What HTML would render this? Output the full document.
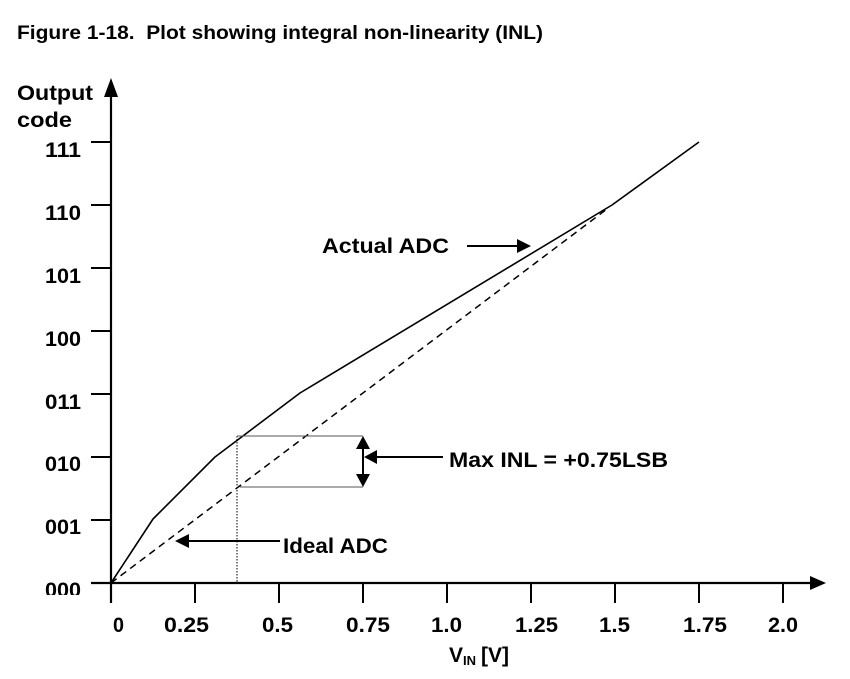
<!DOCTYPE html>
<html><head><meta charset="utf-8"><style>
html,body{margin:0;padding:0;background:#fff;}
svg{display:block;}
text{font-family:"Liberation Sans",Arial,sans-serif;font-weight:bold;fill:#000;white-space:pre;}
</style></head><body>
<svg width="850" height="679" viewBox="0 0 850 679" xmlns="http://www.w3.org/2000/svg">
<rect width="850" height="679" fill="#fff"/>
<!-- title -->
<text x="17" y="39" font-size="19" textLength="526" lengthAdjust="spacingAndGlyphs" xml:space="preserve">Figure 1-18.  Plot showing integral non-linearity (INL)</text>
<!-- y label -->
<text x="17" y="100" font-size="21" textLength="76" lengthAdjust="spacingAndGlyphs">Output</text>
<text x="17" y="127" font-size="21" textLength="55" lengthAdjust="spacingAndGlyphs">code</text>
<!-- axes -->
<line x1="111" y1="92" x2="111" y2="603" stroke="#000" stroke-width="2.2"/>
<polygon points="111,78 104,97 118,97" fill="#000"/>
<line x1="91" y1="583" x2="812" y2="583" stroke="#000" stroke-width="2.2"/>
<polygon points="826,583 810,576 810,590" fill="#000"/>
<!-- y ticks -->
<g stroke="#000" stroke-width="2">
<line x1="91" y1="142" x2="111" y2="142"/>
<line x1="91" y1="205" x2="111" y2="205"/>
<line x1="91" y1="268" x2="111" y2="268"/>
<line x1="91" y1="331" x2="111" y2="331"/>
<line x1="91" y1="394" x2="111" y2="394"/>
<line x1="91" y1="457" x2="111" y2="457"/>
<line x1="91" y1="520" x2="111" y2="520"/>
</g>
<!-- x ticks -->
<g stroke="#000" stroke-width="2">
<line x1="195" y1="583" x2="195" y2="603"/>
<line x1="279" y1="583" x2="279" y2="603"/>
<line x1="363" y1="583" x2="363" y2="603"/>
<line x1="447" y1="583" x2="447" y2="603"/>
<line x1="531" y1="583" x2="531" y2="603"/>
<line x1="615" y1="583" x2="615" y2="603"/>
<line x1="699" y1="583" x2="699" y2="603"/>
<line x1="783" y1="583" x2="783" y2="603"/>
</g>
<!-- y tick labels -->
<g font-size="21.5" text-anchor="end">
<text x="81" y="157" textLength="36" lengthAdjust="spacingAndGlyphs">111</text>
<text x="81" y="220" textLength="36" lengthAdjust="spacingAndGlyphs">110</text>
<text x="81" y="283" textLength="36" lengthAdjust="spacingAndGlyphs">101</text>
<text x="81" y="346" textLength="36" lengthAdjust="spacingAndGlyphs">100</text>
<text x="81" y="409" textLength="36" lengthAdjust="spacingAndGlyphs">011</text>
<text x="81" y="471" textLength="36" lengthAdjust="spacingAndGlyphs">010</text>
<text x="81" y="534" textLength="36" lengthAdjust="spacingAndGlyphs">001</text>
</g>
<clipPath id="c0"><rect x="40" y="578" width="50" height="17"/></clipPath>
<text x="81" y="597" font-size="21.5" text-anchor="end" textLength="36" lengthAdjust="spacingAndGlyphs" clip-path="url(#c0)">000</text>
<!-- x tick labels -->
<g font-size="21.5">
<text x="113" y="632" textLength="11" lengthAdjust="spacingAndGlyphs">0</text>
<text x="164" y="632" textLength="45" lengthAdjust="spacingAndGlyphs">0.25</text>
<text x="262" y="632" textLength="31" lengthAdjust="spacingAndGlyphs">0.5</text>
<text x="346" y="632" textLength="44" lengthAdjust="spacingAndGlyphs">0.75</text>
<text x="431" y="632" textLength="31" lengthAdjust="spacingAndGlyphs">1.0</text>
<text x="515" y="632" textLength="43" lengthAdjust="spacingAndGlyphs">1.25</text>
<text x="599" y="632" textLength="31" lengthAdjust="spacingAndGlyphs">1.5</text>
<text x="683" y="632" textLength="44" lengthAdjust="spacingAndGlyphs">1.75</text>
<text x="768" y="632" textLength="30" lengthAdjust="spacingAndGlyphs">2.0</text>
</g>
<!-- x label -->
<text x="449" y="662" font-size="21">V</text>
<text x="463" y="665" font-size="13">IN</text>
<text x="481" y="662" font-size="21">[V]</text>
<!-- ideal dashed -->
<line x1="111" y1="583" x2="607" y2="209" stroke="#000" stroke-width="1.5" stroke-dasharray="7,5"/>
<!-- actual -->
<polyline points="111,583 153,519 215,457 300,393 612,205 699,142" fill="none" stroke="#000" stroke-width="1.6" stroke-linejoin="round"/>
<!-- INL box -->
<line x1="237" y1="436" x2="237" y2="583" stroke="#000" stroke-width="1" stroke-dasharray="1.5,1.5"/>
<line x1="237" y1="436" x2="363" y2="436" stroke="#555" stroke-width="1"/>
<line x1="240" y1="487" x2="363" y2="487" stroke="#555" stroke-width="1"/>
<line x1="363" y1="446" x2="363" y2="477" stroke="#000" stroke-width="2"/>
<polygon points="363,436 356,449 370,449" fill="#000"/>
<polygon points="363,487 356,474 370,474" fill="#000"/>
<!-- Max INL arrow -->
<line x1="375" y1="457" x2="443" y2="457" stroke="#000" stroke-width="2"/>
<polygon points="364,457 377,450 377,464" fill="#000"/>
<text x="449" y="467" font-size="21" textLength="219" lengthAdjust="spacingAndGlyphs">Max INL = +0.75LSB</text>
<!-- Ideal ADC arrow -->
<line x1="186" y1="541" x2="280" y2="541" stroke="#000" stroke-width="2"/>
<polygon points="175,541 189,534 189,548" fill="#000"/>
<text x="283" y="553" font-size="21" textLength="105" lengthAdjust="spacingAndGlyphs">Ideal ADC</text>
<!-- Actual ADC arrow -->
<text x="322" y="253" font-size="21" textLength="127" lengthAdjust="spacingAndGlyphs">Actual ADC</text>
<line x1="467" y1="246" x2="518" y2="246" stroke="#000" stroke-width="2"/>
<polygon points="531,246 517,239 517,253" fill="#000"/>
</svg>
</body></html>
